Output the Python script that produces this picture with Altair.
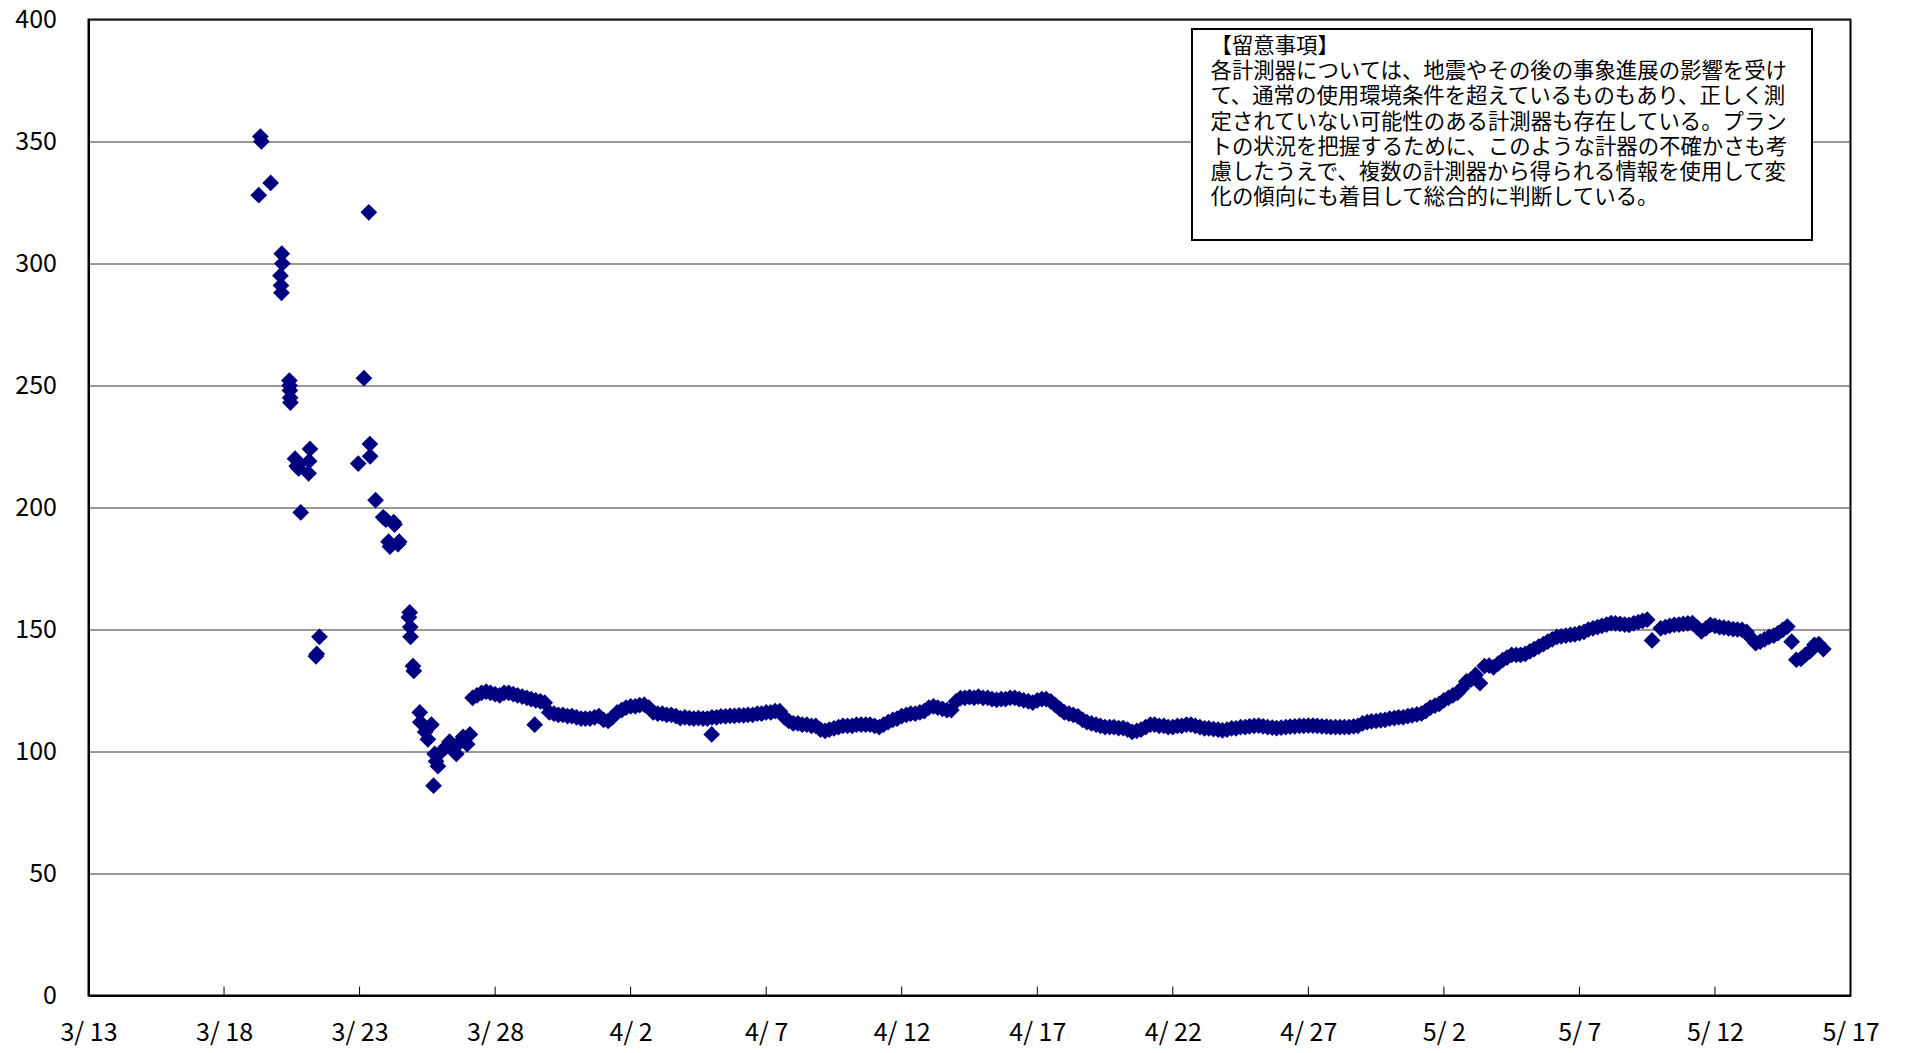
import altair as alt
import pandas as pd

BASE = pd.Timestamp("2011-03-13")

# Scattered readings (days after 3/13 00:00, value)
sparse_days = [6.28, 6.34, 6.38, 6.72,
               7.08, 7.10, 7.12, 7.13, 7.15,
               7.41, 7.42, 7.43, 7.44, 7.45,
               7.62, 7.68, 7.75, 7.77, 7.83, 8.12, 8.14, 8.17,
               8.39, 8.42, 8.52,
               9.95, 10.16, 10.34, 10.38, 10.39,
               10.59, 10.87, 10.97, 11.07, 11.12, 11.26, 11.29, 11.42, 11.46,
               11.82, 11.85, 11.87, 11.88, 11.97, 12.00,
               12.22, 12.24, 12.42, 12.52, 12.65, 12.73, 12.77, 12.82, 12.89,
               13.02, 13.20, 13.32, 13.42, 13.57, 13.72, 13.82, 13.97, 14.07,
               16.46, 22.99, 57.68]
sparse_vals = [328, 352, 350, 333,
               295, 291, 288, 304, 300,
               252, 250, 248, 245, 243,
               220, 217, 216, 218, 198, 214, 219, 224,
               139, 140, 147,
               218, 253, 321, 226, 221,
               203, 196, 195, 186, 184, 194, 193, 185, 186,
               155, 157, 151, 147, 135, 133,
               116, 112, 108, 105, 111, 86, 99, 96, 94,
               100, 102, 104, 101, 99, 104, 106, 103, 107,
               111, 107, 145.5]

# Regular readings, six per day (every 4 hours) from 3/27 onward
dense_days = list(range(14, 65))
slot_offsets = [0.0, 0.17, 0.33, 0.5, 0.67, 0.83]
dense_vals = [
    [None, 122, 123, 124, 124.5, 124],          # 3/27
    [123.5, 123, 124, 124, 123.5, 123],         # 3/28
    [122.5, 122, 121.5, 121, 120.5, 120],       # 3/29
    [116, 115.5, 115, 115, 114.5, 114.5],       # 3/30
    [114, 113.5, 113.5, 113.5, 114, 114.5],     # 3/31
    [113, 112.5, 114, 116, 117, 118],           # 4/1
    [118.5, 118.5, 119, 119.2, 118, 116],       # 4/2
    [115.5, 115.5, 115, 115, 114.5, 113.7],     # 4/3
    [114, 113.7, 113.5, 113.7, 113.5, 113.5],   # 4/4
    [114, 114, 114.4, 114.4, 114.6, 114.6],     # 4/5
    [114.8, 114.8, 115, 115, 115.5, 115.5],     # 4/6
    [116, 116, 116.5, 116.5, 114, 112.5],       # 4/7
    [111.5, 111.5, 111, 111, 110.5, 110.5],     # 4/8
    [109, 108.5, 109, 109.5, 110, 110.5],       # 4/9
    [110.5, 110.5, 111, 111, 111, 111],         # 4/10
    [110.5, 110, 111, 112, 113, 113.5],         # 4/11
    [114.5, 115, 115.5, 115.5, 116, 116.5],     # 4/12
    [118, 118.5, 118, 117.5, 117, 117],         # 4/13
    [120.5, 121.9, 122, 122.3, 122, 122.5],     # 4/14
    [122, 122, 121.5, 121.2, 121.5, 121.5],     # 4/15
    [122, 122, 121.5, 121, 120.5, 120],         # 4/16
    [121, 121.5, 121.5, 120.5, 119, 117.5],     # 4/17
    [116, 115.5, 115, 114.4, 113, 112],         # 4/18
    [111.5, 111, 110.5, 110, 110, 110],         # 4/19
    [109.6, 109.6, 109, 108, 108.5, 109],       # 4/20
    [110, 111, 111, 110.5, 110.5, 110],         # 4/21
    [110, 110.5, 110.5, 111, 111, 110.5],       # 4/22
    [110, 109.5, 109.5, 109.2, 109, 108.7],     # 4/23
    [109, 109.5, 109.5, 110, 110, 110.3],       # 4/24
    [110.5, 110.6, 110.3, 110, 109.8, 109.6],   # 4/25
    [109.8, 110, 110.2, 110.3, 110.5, 110.5],   # 4/26
    [110.6, 110.6, 110.5, 110.3, 110.2, 110],   # 4/27
    [110, 110, 110, 110, 110.3, 110.5],         # 4/28
    [111.5, 112, 112.3, 112.5, 112.8, 113],     # 4/29
    [113.5, 113.7, 114, 114, 114.5, 114.8],     # 4/30
    [115.2, 115.5, 116.5, 118, 118.8, 119.5],   # 5/1
    [121, 122, 123, 124, 126, 128.7],           # 5/2
    [129.5, 131.4, 128, 135, 135.2, 134.5],     # 5/3
    [136, 137.5, 138.5, 139.6, 139.6, 139.6],   # 5/4
    [140, 141, 142, 143, 144, 145],             # 5/5
    [146, 147, 147.2, 147.5, 147.8, 148],       # 5/6
    [148.5, 149, 150, 150.5, 151, 151.5],       # 5/7
    [152, 152.6, 152.5, 152.3, 152, 151.9],     # 5/8
    [152.5, 153, 153.5, 154, None, None],       # 5/9
    [150.5, 151, 151.5, 151.9, 152, 152.3],     # 5/10
    [152.5, 152.6, 151, 149.2, 150.5, 151.9],   # 5/11
    [151.5, 151, 150.8, 150.5, 150.2, 150],     # 5/12
    [149.8, 149, 146.5, 144.4, 145, 146],       # 5/13
    [147, 147.5, 148.5, 149.8, 151.2, 145],     # 5/14
    [137.6, 138, 139.6, 141, 143.7, 144],       # 5/15
    [142, None, None, None, None, None],        # 5/16
]

tick_dates = ["2011-03-13", "2011-03-18", "2011-03-23", "2011-03-28", "2011-04-02",
              "2011-04-07", "2011-04-12", "2011-04-17", "2011-04-22", "2011-04-27",
              "2011-05-02", "2011-05-07", "2011-05-12", "2011-05-17"]
y_ticks = [0, 50, 100, 150, 200, 250, 300, 350, 400]

note_lines = [
    "【留意事項】",
    "各計測器については、地震やその後の事象進展の影響を受け",
    "て、通常の使用環境条件を超えているものもあり、正しく測",
    "定されていない可能性のある計測器も存在している。プラン",
    "トの状況を把握するために、このような計器の不確かさも考",
    "慮したうえで、複数の計測器から得られる情報を使用して変",
    "化の傾向にも着目して総合的に判断している。",
]

rows = list(zip(sparse_days, sparse_vals))
for day, vals in zip(dense_days, dense_vals):
    for off, v in zip(slot_offsets, vals):
        if v is not None:
            rows.append((day + off, v))
df = pd.DataFrame(rows, columns=["d", "v"])
df["t"] = (BASE + pd.to_timedelta(df["d"], unit="D")).dt.strftime("%Y-%m-%dT%H:%M:%SZ")

ticks_df = pd.DataFrame({"t": [s + "T00:00:00Z" for s in tick_dates]})
note_df = pd.DataFrame({"text": ["\n".join(note_lines)]})

FONT = "Noto Sans CJK JP"
W, H = 1762, 976


def dt(s):
    return alt.DateTime(year=int(s[0:4]), month=int(s[5:7]), date=int(s[8:10]), utc=True)


x_scale = alt.Scale(type="utc", domain=[dt(tick_dates[0]), dt(tick_dates[-1])], nice=False)

x_enc = alt.X(
    "t:T",
    scale=x_scale,
    axis=alt.Axis(
        title=None,
        values=[dt(s) for s in tick_dates],
        labelExpr="(utcmonth(datum.value) + 1) + '/ ' + utcdate(datum.value)",
        grid=False,
        ticks=False,
        domainColor="black",
        domainWidth=2,
        labelFont=FONT,
        labelFontSize=25,
        labelColor="black",
        labelPadding=25,
        labelFlush=False,
        labelOverlap=False,
    ),
)
y_enc = alt.Y(
    "v:Q",
    scale=alt.Scale(domain=[0, 400], nice=False, zero=True),
    axis=alt.Axis(
        title=None,
        values=y_ticks,
        grid=True,
        gridColor="#333333",
        gridWidth=1,
        ticks=False,
        domainColor="black",
        domainWidth=2,
        labelFont=FONT,
        labelFontSize=25,
        labelColor="black",
        labelPadding=32,
    ),
)

points = alt.Chart(df).mark_point(
    shape="diamond", filled=True, size=280, color="#000080", opacity=1, strokeWidth=0
).encode(x=x_enc, y=y_enc)

tick_marks = alt.Chart(ticks_df).mark_rule(color="black", strokeWidth=1).encode(
    x=alt.X("t:T"), y=alt.value(H), y2=alt.value(H - 9)
)

box = alt.Chart(note_df).mark_rect(fill="white", stroke="black", strokeWidth=2).encode(
    x=alt.value(1103.5), x2=alt.value(1723.5), y=alt.value(9.5), y2=alt.value(220.5)
)

note = alt.Chart(note_df).mark_text(
    align="left", baseline="alphabetic", lineBreak="\n", lineHeight=25.2,
    font=FONT, fontSize=21.4, color="black"
).encode(x=alt.value(1122), y=alt.value(33.5), text="text:N")

chart = alt.layer(points, tick_marks, box, note).properties(
    width=W,
    height=H,
    autosize=alt.AutoSizeParams(type="none"),
    padding={"left": 80.5, "top": 11.5, "right": 40, "bottom": 55},
    background="white",
).configure_view(stroke="black", strokeWidth=2)

chart.save("out.html", embed_options={"renderer": "svg", "actions": False})
